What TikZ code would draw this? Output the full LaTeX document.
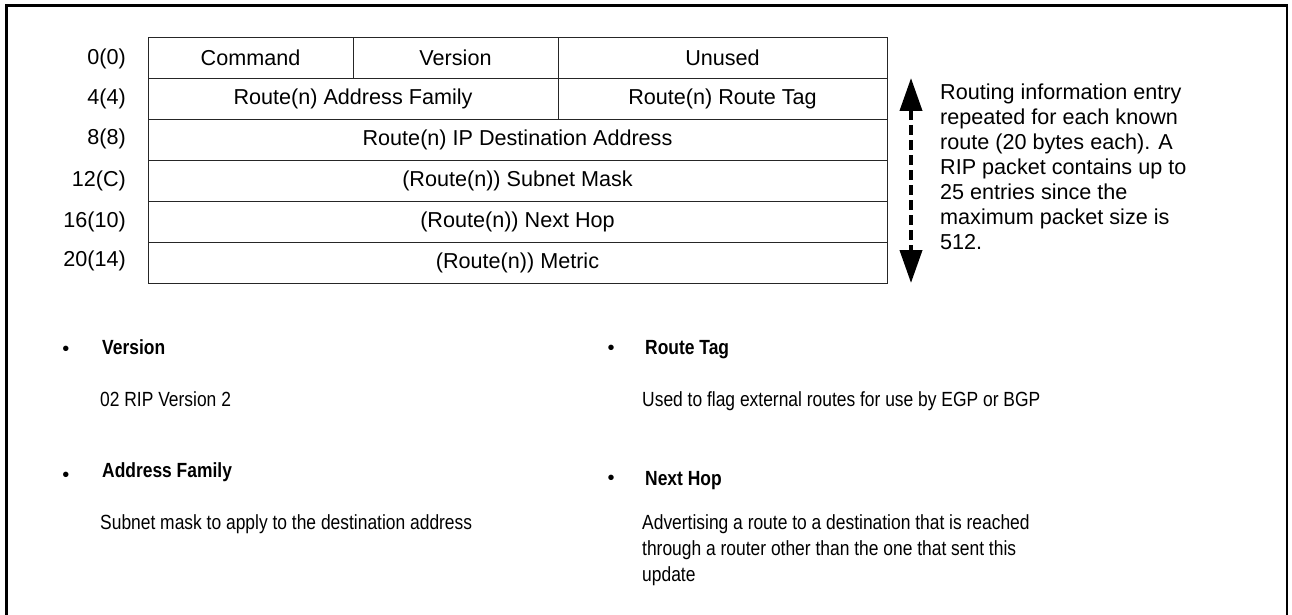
\documentclass[tikz,border=0pt]{standalone}
\usepackage{fontspec}
\setmainfont{Liberation Sans}
\newfontfamily\narrowsans[FakeStretch=0.85]{Liberation Sans}
\usetikzlibrary{arrows.meta}
\newcommand\tablefont{\fontsize{21.6}{25}\selectfont}
\newcommand\notefont{\narrowsans\fontsize{20.5}{26}\selectfont}

\begin{document}
\begin{tikzpicture}[x=1pt,y=-1pt,
  cell/.style={draw=black!85, line width=0.9pt, minimum height=41pt,
               inner sep=0pt, font=\tablefont},
  offset/.style={anchor=east, inner sep=0pt, font=\tablefont},
  bulletmark/.style={inner sep=0pt, font=\fontsize{20}{20}\selectfont},
  head/.style={anchor=base west, inner sep=0pt, font=\notefont\bfseries},
  body/.style={anchor=base west, inner sep=0pt, font=\notefont, align=left},
  frameline/.style={line width=2.4pt, black}
]
\useasboundingbox (0,0) rectangle (1292,615);

% outer frame (open at the bottom)
\draw[frameline] (6.5,615) -- (6.5,5.5) -- (1287,5.5) -- (1287,615);

% RIP v2 message layout
\node[cell, minimum width=205pt] (cmd)    at (250.5,57.5)  {Command};
\node[cell, minimum width=205pt] (ver)    at (455.5,57.5)  {Version};
\node[cell, minimum width=329pt] (unused) at (722.5,57.5)  {Unused};
\node[cell, minimum width=410pt] (af)     at (353,98.5)    {Route(n) Address Family};
\node[cell, minimum width=329pt] (tag)    at (722.5,98.5)  {Route(n) Route Tag};
\node[cell, minimum width=739pt] (ip)     at (517.5,139.5) {Route(n) IP Destination Address};
\node[cell, minimum width=739pt] (mask)   at (517.5,180.5) {(Route(n)) Subnet Mask};
\node[cell, minimum width=739pt] (hop)    at (517.5,221.5) {(Route(n)) Next Hop};
\node[cell, minimum width=739pt] (metric) at (517.5,262.5) {(Route(n)) Metric};

% byte offsets
\node[offset] (o0)  at (126,59)  {0(0)};
\node[offset] (o4)  at (126,99)  {4(4)};
\node[offset] (o8)  at (126,139) {8(8)};
\node[offset] (o12) at (126,181) {12(C)};
\node[offset] (o16) at (126,222) {16(10)};
\node[offset] (o20) at (126,261) {20(14)};

% repetition arrow and its note
\coordinate (rtop) at (911,78);
\coordinate (rbot) at (911,283);
\draw[line width=4pt, dash pattern=on 10pt off 5pt,
      {Triangle[width=22pt,length=33pt]}-{Triangle[width=22pt,length=33pt]}]
      (rtop) -- (rbot);
\node[anchor=north west, inner sep=0pt, align=left, font=\tablefont] (note)
  at (940,83.5)
  {Routing information entry\\repeated for each known\\route (20 bytes each). A\\
   RIP packet contains up to\\25 entries since the\\maximum packet size is\\512.};

% field descriptions
\node[bulletmark] (b1) at (66,350.5) {•};
\node[head] (h1) at (102,354) {Version};
\node[body] (t1) at (100,406) {02 RIP Version 2};

\node[bulletmark] (b2) at (66,477) {•};
\node[head] (h2) at (102,477) {Address Family};
\node[body] (t2) at (100,529) {Subnet mask to apply to the destination address};

\node[bulletmark] (b3) at (611,350) {•};
\node[head] (h3) at (645,354) {Route Tag};
\node[body] (t3) at (642,406) {Used to flag external routes for use by EGP or BGP};

\node[bulletmark] (b4) at (611,479.5) {•};
\node[head] (h4) at (645,485) {Next Hop};
\node[body] (t4) at (642,581)
  {Advertising a route to a destination that is reached\\
   through a router other than the one that sent this\\update};
\end{tikzpicture}
\end{document}
